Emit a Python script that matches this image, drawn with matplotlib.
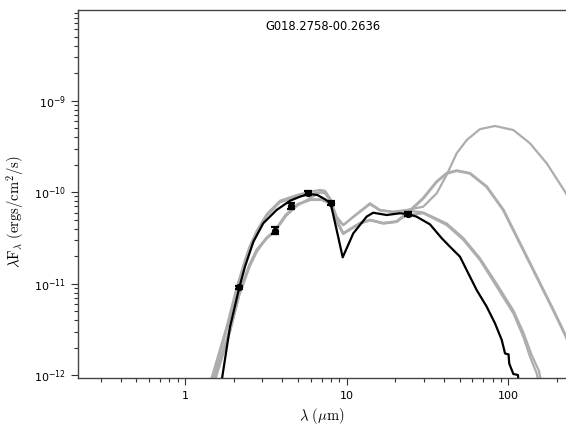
import numpy as np
import matplotlib
matplotlib.use("Agg")
import matplotlib.pyplot as plt
from matplotlib.ticker import FixedLocator, FixedFormatter, NullFormatter

plt.rcParams['mathtext.fontset'] = 'cm'

source_name = "G018.2758-00.2636"

# observed photometry (micron, ergs/cm^2/s) and fractional errors
obs_wav = [2.17, 3.6, 4.5, 5.8, 8.0, 24.0]
obs_flux = [9.2e-12, 3.81e-11, 7.14e-11, 9.9e-11, 7.58e-11, 5.8e-11]
obs_ferr = [0.04, 0.09, 0.08, 0.05, 0.05, 0.05]

x_ticks = [1, 10, 100]
x_tick_labels = ['1', '10', '100']
x_minor = [0.3, 0.4, 0.5, 0.6, 0.7, 0.8, 0.9, 2, 3, 4, 5, 6, 7, 8, 9,
           20, 30, 40, 50, 60, 70, 80, 90, 200]
y_ticks = [1e-12, 1e-11, 1e-10, 1e-9]
y_tick_labels = [r'$\mathdefault{10^{-12}}$', r'$\mathdefault{10^{-11}}$',
                 r'$\mathdefault{10^{-10}}$', r'$\mathdefault{10^{-9}}$']
y_minor_mult = [2, 3, 4, 5, 6, 7, 8, 9]

# best-fit model (black), log10 flux
bk_wav = [1.62, 1.706, 1.90, 2.17, 2.35, 2.65, 3.05, 3.69, 4.47, 5.14, 5.53, 5.94, 6.6,
          7.35, 7.97, 8.7, 9.46, 11.0, 13.3, 14.6, 17.7, 21.4, 24.0, 27.1, 32.8, 38.8,
          43.6, 50.3, 56.6, 63.8, 73.6, 82.8, 91.2, 95.6, 100.5, 101.5, 107.6, 115, 117]
bk_logF = [-12.3, -12.0, -11.467, -11.037, -10.812, -10.539, -10.338, -10.193, -10.092,
           -10.048, -10.03, -10.019, -10.03, -10.076, -10.12, -10.42, -10.71, -10.448,
           -10.266, -10.223, -10.248, -10.229, -10.237, -10.266, -10.35, -10.502, -10.594,
           -10.703, -10.884, -11.067, -11.249, -11.43, -11.612, -11.76, -11.77, -11.87,
           -11.984, -11.995, -12.3]

# other good-fit models (grey), log10 flux
g1_wav = [1.40, 1.46, 1.81, 2.09, 2.35, 2.5, 2.78, 3.2, 3.87, 4.92, 5.94, 6.85, 7.35, 7.9,
          8.68, 9.53, 11.0, 13.95, 16.1, 19.5, 23.5, 29.8, 36.1, 41.6, 48.0, 55.4, 66.9,
          82.8, 107.6, 136.4, 173, 228, 300]
g1_logF = [-12.3, -12.03, -11.467, -11.037, -10.74, -10.6, -10.42, -10.24, -10.092,
           -10.03, -9.993, -9.975, -9.983, -10.066, -10.266, -10.357, -10.266, -10.12,
           -10.193, -10.212, -10.193, -10.157, -10.011, -9.81, -9.574, -9.429, -9.31,
           -9.276, -9.32, -9.465, -9.683, -10.011, -10.45]

g2_wav = [1.45, 1.52, 1.9, 2.17, 2.5, 2.78, 3.2, 3.6, 4.2, 5.0, 6.0, 7.0, 7.9, 8.7, 9.53,
          12.1, 13.95, 16.9, 20.4, 24.7, 29.8, 36.1, 41.6, 48.0, 58, 73.6, 93.3, 118.3,
          150, 190, 228, 300]
g2_logF = [-12.3, -12.03, -11.5, -11.1, -10.8, -10.63, -10.5, -10.42, -10.25, -10.13,
           -10.08, -10.08, -10.12, -10.32, -10.45, -10.338, -10.303, -10.338, -10.32,
           -10.2, -10.065, -9.884, -9.793, -9.764, -9.793, -9.939, -10.193, -10.557,
           -10.921, -11.285, -11.576, -12.1]

g3_wav = [1.42, 1.48, 1.85, 2.12, 2.35, 2.5, 2.78, 3.2, 3.87, 4.92, 5.94, 6.85, 7.35, 7.9,
          8.68, 9.53, 12.1, 13.95, 16.9, 20.4, 23.5, 29.8, 41.6, 52.8, 66.9, 84.9, 107.6,
          124, 136.4, 150, 165]
g3_logF = [-12.3, -12.03, -11.45, -11.03, -10.76, -10.62, -10.45, -10.26, -10.11, -10.05,
           -10.02, -10.0, -10.01, -10.09, -10.3, -10.45, -10.338, -10.303, -10.338, -10.32,
           -10.25, -10.229, -10.357, -10.52, -10.74, -11.03, -11.321, -11.576, -11.795,
           -11.976, -12.3]

g4_wav = [1.48, 1.55, 1.9, 2.17, 2.5, 2.78, 3.2, 3.6, 4.2, 5.0, 6.0, 6.85, 7.35, 7.9,
          8.68, 9.53, 11.0, 13.95, 16.1, 19.5, 23.5, 29.8, 41.6, 52.8, 66.9, 84.9, 107.6,
          124, 140, 155, 170]
g4_logF = [-12.3, -12.03, -11.52, -11.12, -10.82, -10.65, -10.5, -10.43, -10.26, -10.14,
           -10.06, -10.0, -10.0, -10.07, -10.28, -10.36, -10.27, -10.13, -10.2, -10.215,
           -10.2, -10.22, -10.34, -10.5, -10.72, -11.0, -11.29, -11.53, -11.78, -11.95,
           -12.3]

W, H = 566, 426
fig = plt.figure(figsize=(W / 100, H / 100), dpi=100)
ax_l, ax_r, ax_t, ax_b = 78, 568, 9.5, 378.3
ax_w, ax_h = ax_r - ax_l, ax_b - ax_t
ax = fig.add_axes([ax_l / W, 1 - ax_b / H, ax_w / W, ax_h / H])

grey = '0.68'
for wav, lf, lw in [(g1_wav, g1_logF, 1.6), (g2_wav, g2_logF, 2.1),
                    (g3_wav, g3_logF, 1.6), (g4_wav, g4_logF, 1.6)]:
    ax.plot(wav, 10 ** np.array(lf), color=grey, lw=lw, solid_joinstyle='round',
            solid_capstyle='round', zorder=2)

ax.plot(bk_wav, 10 ** np.array(bk_logF), color='black', lw=1.6,
        solid_joinstyle='round', zorder=3)

obs_flux_a = np.array(obs_flux)
ax.errorbar(obs_wav, obs_flux_a, yerr=obs_flux_a * np.array(obs_ferr), fmt='o',
            color='black', ms=4.2, elinewidth=1.6, capsize=3.2, capthick=1.6, zorder=4)

ax.set_xscale('log')
ax.set_yscale('log')
ax.set_xlim(10 ** ((ax_l - 185) / 161.6), 10 ** ((ax_r - 185) / 161.6))
ax.set_ylim(10 ** (-12.031), 10 ** (-8.004))

ax.xaxis.set_major_locator(FixedLocator(x_ticks))
ax.xaxis.set_major_formatter(FixedFormatter(x_tick_labels))
ax.xaxis.set_minor_locator(FixedLocator(x_minor))
ax.xaxis.set_minor_formatter(NullFormatter())
ax.yaxis.set_major_locator(FixedLocator(y_ticks))
ax.yaxis.set_major_formatter(FixedFormatter(y_tick_labels))
ax.yaxis.set_minor_locator(FixedLocator([m * d for d in [1e-12, 1e-11, 1e-10, 1e-9]
                                         for m in y_minor_mult]))
ax.yaxis.set_minor_formatter(NullFormatter())

for s in ax.spines.values():
    s.set_color('#444444')
    s.set_linewidth(1.0)
ax.tick_params(which='both', direction='out', colors='#333333', top=False, right=False,
               labelsize=8, width=0.8)
ax.tick_params(which='major', length=4.8, pad=4.0)
ax.tick_params(which='minor', length=3.2)
ax.tick_params(axis='both', labelcolor='black')

ax.text(0.5, (ax_b - 26.7) / ax_h, source_name, transform=ax.transAxes, ha='center',
        va='center', fontsize=8.3, family='DejaVu Sans')
ax.set_xlabel(r'$\lambda\ (\mu\mathrm{m})$', fontsize=10.5, va='center')
ax.xaxis.set_label_coords((322 - ax_l) / ax_w, (ax_b - 416) / ax_h)
ax.set_ylabel(r'$\lambda\mathrm{F}_\lambda\ \mathrm{(ergs/cm^2/s)}$', fontsize=10.5,
              va='center')
ax.yaxis.set_label_coords((16 - ax_l) / ax_w, (ax_b - 212) / ax_h)

fig.savefig('out.png', dpi=100)
